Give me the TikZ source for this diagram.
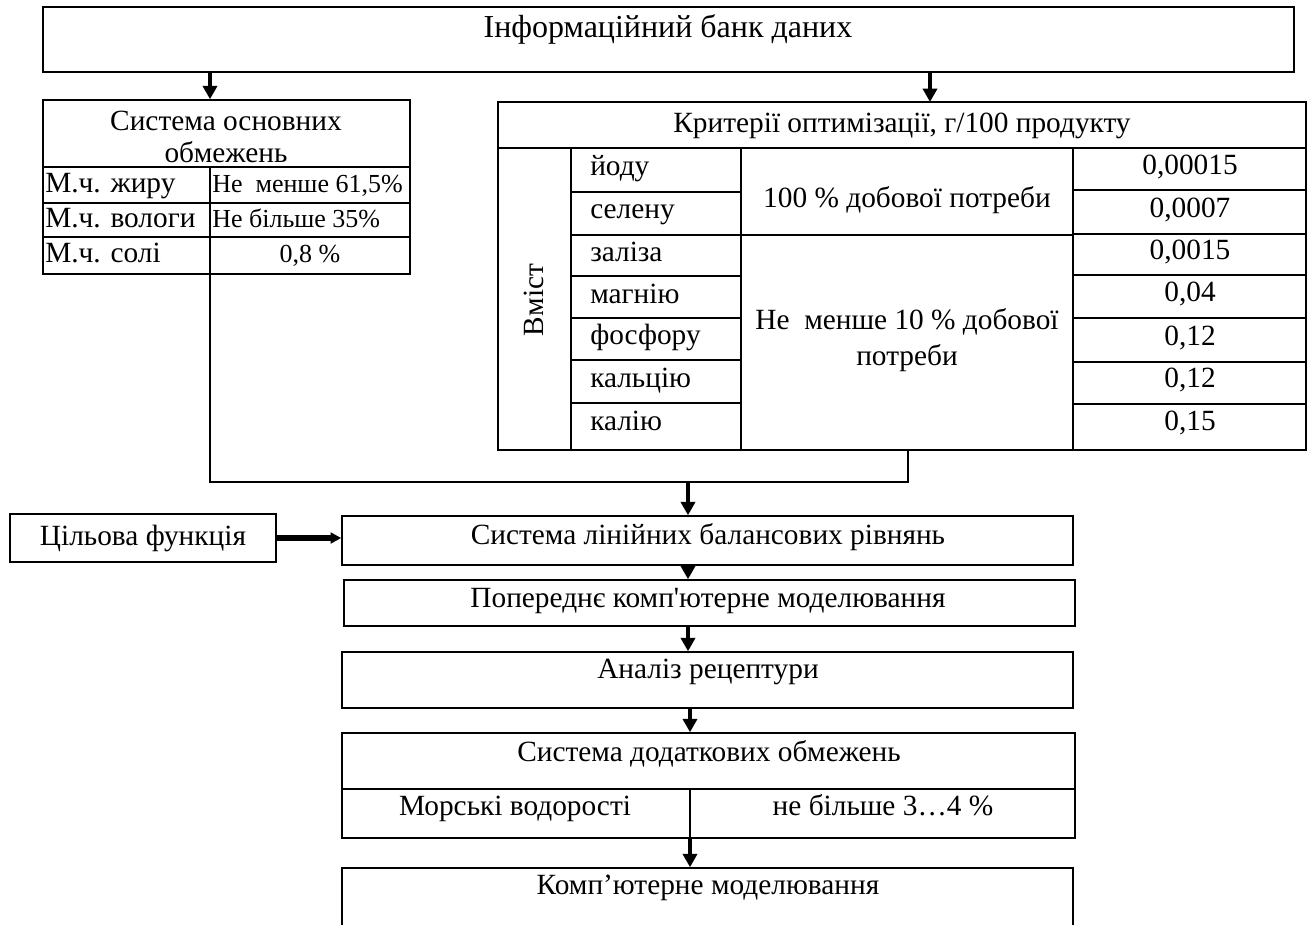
\documentclass[tikz,border=0pt]{standalone}
\usepackage{fontspec}
\newfontfamily\tnr{Liberation Serif}
\usetikzlibrary{arrows.meta, positioning, fit}

\tikzset{
    box/.style={draw, line width=1.1pt, inner sep=0pt},
    rule/.style={line width=0.9pt},
    link/.style={line width=1pt},
    txt/.style={font=\tnr\fontsize{22}{26}\selectfont, inner sep=0pt,
        text height=15pt, text depth=5pt},
    small/.style={txt, font=\tnr\fontsize{19.5}{23}\selectfont},
    big/.style={txt, font=\tnr\fontsize{24}{28}\selectfont},
    mtxt/.style={font=\tnr\fontsize{22}{27}\selectfont, inner sep=0pt, align=center},
    arr/.style={line width=2.6pt, -{Triangle[width=10.5pt,length=10pt]}},
    harr/.style={line width=3.8pt, -{Triangle[width=8pt,length=8pt]}}
}

\begin{document}
\begin{tikzpicture}[x=0.75pt, y=-0.75pt]
    \useasboundingbox (0,0) rectangle (1311,925);
    \clip (0,0) rectangle (1311,925);

    % bank of data
    \node[box, fit={(43,7) (1294,72)}] (bank) {};
    \node[big] (bankt) at (668,31) {Інформаційний банк даних};

    % main constraints
    \node[box, fit={(43,100) (410,274)}] (osn) {};
    \draw[rule] (43,167) -- (410,167) (43,203) -- (410,203) (43,237) -- (410,237);
    \draw[rule] (210,167) -- (210,274);
    \coordinate (osnmid) at (210,274);
    \node[mtxt, font=\tnr\fontsize{22}{23.5}\selectfont] (osnt) at (226,137) {Система основних\\обмежень};
    \node[txt, anchor=west] (fat) at (45,186) {М.ч. жиру};
    \node[txt, anchor=west] (wet) at (45,221) {М.ч. вологи};
    \node[txt, anchor=west] (salt) at (45,256) {М.ч. солі};
    \node[small, anchor=west] (fatv) at (212,186) {Не\ \ менше 61,5\%};
    \node[small, anchor=west] (wetv) at (212,221) {Не більше 35\%};
    \node[small] (saltv) at (310,256) {0,8 \%};

    % optimisation criteria
    \node[box, fit={(498,102) (1306,450)}] (krit) {};
    \coordinate (kritin) at (930,102);
    \coordinate (kritout) at (908,450);
    \draw[rule] (498,148) -- (1306,148);
    \draw[rule] (571,148) -- (571,450) (741,148) -- (741,450) (1073,148) -- (1073,450);
    \foreach \y in {192,235,276,318,360,403}
        \draw[rule] (571,\y) -- (741,\y);
    \draw[rule] (741,235) -- (1073,235);
    \foreach \y in {190,234,275,318,362,404}
        \draw[rule] (1073,\y) -- (1306,\y);
    \node[txt] (kritt) at (902,126) {Критерії оптимізації, г/100 продукту};
    \node[txt, rotate=90] (vmist) at (537,300) {Вміст};
    \node[txt, anchor=west] (e1) at (590,169) {йоду};
    \node[txt, anchor=west] (e2) at (590,212) {селену};
    \node[txt, anchor=west] (e3) at (590,255) {заліза};
    \node[txt, anchor=west] (e4) at (590,297) {магнію};
    \node[txt, anchor=west] (e5) at (590,338) {фосфору};
    \node[txt, anchor=west] (e6) at (590,381) {кальцію};
    \node[txt, anchor=west] (e7) at (590,424) {калію};
    \node[txt] (need1) at (907,201) {100 \% добової потреби};
    \node[mtxt] (need2) at (907,340) {Не\ \ менше 10 \% добової\\потреби};
    \node[txt] (v1) at (1190,168) {0,00015};
    \node[txt] (v2) at (1190,211) {0,0007};
    \node[txt] (v3) at (1190,253) {0,0015};
    \node[txt] (v4) at (1190,295) {0,04};
    \node[txt] (v5) at (1190,339) {0,12};
    \node[txt] (v6) at (1190,381) {0,12};
    \node[txt] (v7) at (1190,424) {0,15};

    % flow
    \node[box, fit={(10,514) (276,562)}] (cil) {};
    \node[txt] (cilt) at (143,539) {Цільова функція};
    \node[box, fit={(342,516) (1073,565)}] (sys) {};
    \node[txt] (syst) at (708,538) {Система лінійних балансових рівнянь};
    \node[box, fit={(344,580) (1075,626)}] (pop) {};
    \node[txt] (popt) at (708,601) {Попереднє комп'ютерне моделювання};
    \node[box, fit={(342,652) (1073,708)}] (anal) {};
    \node[txt] (analt) at (708,672) {Аналіз рецептури};
    \node[box, fit={(342,733) (1075,838)}] (dod) {};
    \draw[rule] (342,789) -- (1075,789);
    \draw[rule] (690,789) -- (690,838);
    \coordinate (doddiv) at (690,789);
    \node[txt] (dodt) at (709,755) {Система додаткових обмежень};
    \node[txt] (sea) at (515,809) {Морські водорості};
    \node[txt] (seav) at (883,809) {не більше 3…4 \%};
    \node[box, fit={(342,868) (1073,960)}] (komp) {};
    \node[txt] (kompt) at (708,888) {Комп’ютерне моделювання};

    % connectors
    \coordinate (join) at (688,482);
    \draw[arr] (bank.south -| osnmid) -- (osn.north -| osnmid);
    \draw[arr] (bank.south -| kritin) -- (kritin);
    \draw[link] (osnmid) |- (join) -| (kritout);
    \draw[arr] (join) -- (join |- sys.north);
    \draw[harr] (cil.east) -- (cil.east -| sys.west);
    \draw[arr] (sys.south -| join) -- (pop.north -| join);
    \draw[arr] (pop.south -| join) -- (anal.north -| join);
    \draw[arr] (anal.south -| doddiv) -- (dod.north -| doddiv);
    \draw[arr] (dod.south -| doddiv) -- (komp.north -| doddiv);

\end{tikzpicture}
\end{document}
